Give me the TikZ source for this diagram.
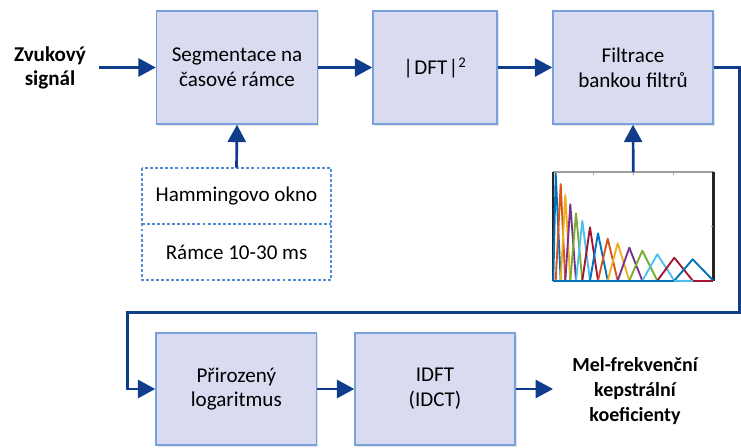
\documentclass[tikz,border=0pt]{standalone}
\usepackage{fontspec}
\setmainfont{Carlito}
\usetikzlibrary{arrows.meta,shadows}

\definecolor{boxfill}{RGB}{217,220,240}
\definecolor{boxline}{RGB}{120,160,220}
\definecolor{flow}{RGB}{16,60,140}
\definecolor{dashline}{RGB}{85,140,215}
% filter colours
\definecolor{fA}{rgb}{0,0.447,0.741}
\definecolor{fB}{rgb}{0.85,0.325,0.098}
\definecolor{fC}{rgb}{0.929,0.694,0.125}
\definecolor{fD}{rgb}{0.494,0.184,0.556}
\definecolor{fE}{rgb}{0.466,0.674,0.188}
\definecolor{fF}{rgb}{0.301,0.745,0.933}
\definecolor{fG}{rgb}{0.635,0.078,0.184}

\begin{document}
\begin{tikzpicture}[x=0.75pt,y=-0.75pt,
  txt/.style={align=center, inner sep=0pt, font=\fontsize{15.8}{18.5}\selectfont},
  block/.style={txt, draw=boxline, line width=1.1pt, fill=boxfill,
    drop shadow={shadow xshift=1.2pt, shadow yshift=-1.2pt, opacity=0.22}},
  label/.style={txt, font=\fontsize{15.8}{18.5}\selectfont\bfseries},
  outlabel/.style={txt, font=\fontsize{15}{18.8}\selectfont\bfseries},
  dashbox/.style={draw=dashline, line width=1.4pt, dash pattern=on 2.2pt off 1.6pt},
  flowline/.style={draw=flow, line width=2pt},
  flowarrow/.style={flowline, -{Triangle[length=13pt,width=13.5pt]}},
  filt/.style={line width=1.4pt, line join=round}
]
\useasboundingbox (0,0) rectangle (741,448);
\clip (0,0) rectangle (741,448);

% processing blocks
\node[block, minimum width=120.75pt, minimum height=84.75pt] (seg) at (237,67.5) {Segmentace na\\časové rámce};
\node[block, minimum width=93pt, minimum height=84.75pt] (dft) at (435,67.5) {|\kern1pt DFT\kern1pt|\textsuperscript{2}};
\node[block, minimum width=120pt, minimum height=84.75pt] (filt) at (633,67.5) {Filtrace\\bankou filtrů};
\node[block, minimum width=120.5pt, minimum height=84.2pt] (log) at (236.3,389) {Přirozený\\logaritmus};
\node[block, minimum width=120pt, minimum height=84.2pt] (idft) at (435,389) {IDFT\\(IDCT)};

% window parameters
\node[txt, minimum width=141.75pt, minimum height=42pt] (hamm) at (236.5,196) {Hammingovo okno};
\node[txt, minimum width=141.75pt, minimum height=42pt] (ramce) at (236.5,252) {Rámce 10-30 ms};
\draw[dashbox] (hamm.north west) rectangle (ramce.south east);
\draw[dashbox] (hamm.south west) -- (hamm.south east);

% input / output labels
\node[label] (sig) at (50,68) {Zvukový\\signál};
\node[outlabel] (mfcc) at (635,391) {Mel-frekvenční\\kepstrální\\koeficienty};

% mel filter bank plot
\node[minimum width=120pt, minimum height=81.3pt, inner sep=0pt] (bank) at (633.3,226.5) {};
\draw[gray!75, line width=1.1pt] (bank.north west) -- (bank.north east);
\draw[black!85, line width=2pt] (bank.north west) -- (bank.south west);
\draw[black!85, line width=2pt] (bank.north east) -- (bank.south east);
\foreach \tx in {593.3,633.3,673.3}
  \draw[gray!75, line width=0.8pt] (\tx,172.3) -- (\tx,174.6);
\draw[gray!75, line width=0.8pt] (713.3,226.5) -- (711,226.5);
\foreach \a/\px/\py/\b/\c in {
  553.3/555.7/173.3/560.7/fA, 555.7/560.7/184/565.3/fB,
  560.7/565.3/195/570.3/fC, 565.3/570.3/204.3/576/fD,
  570.3/576/213.3/582.3/fE, 576/582.3/221/590/fF,
  582.3/590/227.3/598/fG, 590/598/233.3/607.7/fA,
  598/607.7/238.7/617.7/fB, 607.7/617.7/243.3/629.3/fC,
  617.7/629.3/247.7/642.3/fD, 629.3/642.3/250.7/657.3/fE,
  642.3/657.3/254.3/674.3/fF, 657.3/674.3/257.7/692.7/fG,
  674.3/692.7/259.3/713.3/fA}
  \draw[filt, draw=\c] (\a,280.7) -- (\px,\py) -- (\b,280.7);
\draw[filt, draw=fA] (553.3,280.7) -- (674.3,280.7);
\draw[filt, draw=fF] (674.3,280.7) -- (692.7,280.7);
\draw[filt, draw=fG] (692.7,280.7) -- (713.3,280.7);

% connectors
\coordinate (in) at (99,67.5);
\coordinate (out) at (553,389);
\coordinate (r1) at (739.6,312.3);
\coordinate (l1) at (127.7,312.3);
\draw[flowarrow] (in) -- (seg.west);
\draw[flowarrow] (seg.east) -- (dft.west);
\draw[flowarrow] (dft.east) -- (filt.west);
\draw[flowarrow] (hamm.north) -- (seg.south);
\draw[flowarrow] (bank.north) -- (filt.south);
\draw[flowarrow] (filt.east) -| (r1) -- (l1) |- (log.west);
\draw[flowarrow] (log.east) -- (idft.west);
\draw[flowarrow] (idft.east) -- (out);
\end{tikzpicture}
\end{document}
